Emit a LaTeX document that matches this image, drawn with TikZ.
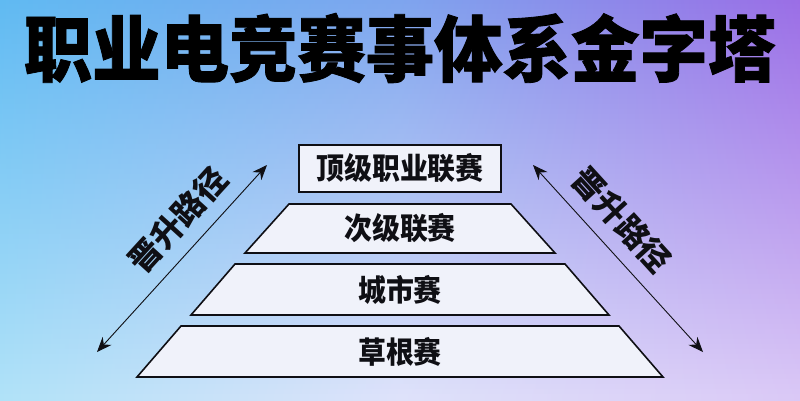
\documentclass[tikz,border=0pt]{standalone}
\usepackage{fontspec}
\newfontfamily\cjk{Noto Sans CJK SC}
\newfontfamily\cjkheavy[BoldFeatures={FakeBold=1.2}]{Noto Sans CJK SC}
\usetikzlibrary{arrows.meta}
\definecolor{cTL}{RGB}{96,186,242}
\definecolor{cTM}{RGB}{126,165,238}
\definecolor{cTR}{RGB}{155,110,230}
\definecolor{cBL}{RGB}{176,226,248}
\definecolor{cBM}{RGB}{222,226,250}
\definecolor{cBR}{RGB}{218,200,246}
\definecolor{tierfill}{RGB}{240,242,250}
\definecolor{inkc}{RGB}{15,15,20}
\begin{document}
\begin{tikzpicture}[x=1pt,y=-1pt,
  tier/.style={draw=inkc,line width=1.6pt,fill=tierfill,line join=miter},
  tierlabel/.style={font=\cjk\bfseries\fontsize{30}{30}\selectfont,text=inkc,inner sep=0pt,xscale=0.93},
  sidelabel/.style={font=\cjk\bfseries\fontsize{32}{32}\selectfont,text=inkc,inner sep=0pt},
  promo/.style={draw=inkc,line width=0.9pt,{Stealth[length=15pt,width=12pt]}-{Stealth[length=15pt,width=12pt]}},
  titlestyle/.style={font=\cjkheavy\bfseries\fontsize{72}{72}\selectfont,text=black,inner sep=0pt,xscale=0.95}
]
\useasboundingbox (0,0) rectangle (800,400);
% background
\foreach \i in {0,...,79}{
  \pgfmathsetmacro\p{\i*100/79}
  \shade[left color=cBL!\p!cTL, right color=cBR!\p!cTR, middle color=cBM!\p!cTM]
    (-1,\i*5-0.5) rectangle (801,\i*5+5.5);
}
% title
\node[titlestyle] (title) at (400,48) {职业电竞赛事体系金字塔};
% tiers
\draw[tier] (299,145) rectangle (501,192);
\node[tierlabel] (t1) at (400,168.5) {顶级职业联赛};
\draw[tier] (289,204) -- (511,204) -- (555,253) -- (245,253) -- cycle;
\node[tierlabel] (t2) at (400,228.5) {次级联赛};
\draw[tier] (235,264) -- (565,264) -- (609,315) -- (191,315) -- cycle;
\node[tierlabel] (t3) at (400,289.5) {城市赛};
\draw[tier] (181,326) -- (619,326) -- (663,377) -- (137,377) -- cycle;
\node[tierlabel] (t4) at (400,351.5) {草根赛};
% arrows
\coordinate (la1) at (97,352);
\coordinate (la2) at (267,165);
\coordinate (ra1) at (533,165);
\coordinate (ra2) at (703,352);
\draw[promo] (la1) -- (la2);
\draw[promo] (ra1) -- (ra2);
\node[sidelabel,rotate=47.7] (ls) at (178,220) {晋升路径};
\node[sidelabel,rotate=-47.7] (rs) at (622,220) {晋升路径};
\end{tikzpicture}
\end{document}
